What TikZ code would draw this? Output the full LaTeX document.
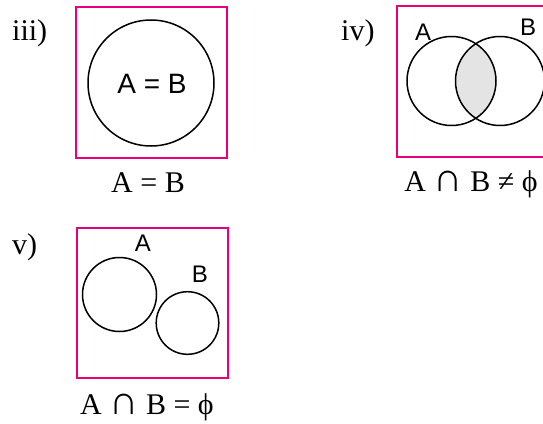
\documentclass[tikz,border=0pt]{standalone}
\usepackage{fontspec}
\setmainfont{Liberation Serif}
\newfontfamily\labelsans{Liberation Sans}
\usetikzlibrary{positioning}
\definecolor{frame}{HTML}{E6007E}
\definecolor{lensgray}{HTML}{E4E4E4}
\newcommand{\bigcapsym}{\scalebox{1.35}{∩}}

\begin{document}
\begin{tikzpicture}[x=1pt,y=-1pt,
  universe/.style={draw=frame,line width=2pt},
  setline/.style={draw=black,line width=1.5pt},
  setname/.style={font=\labelsans\fontsize{24}{26}\selectfont,inner sep=0pt},
  caption/.style={font=\fontsize{30}{32}\selectfont,inner sep=0pt},
  partno/.style={font=\fontsize{30}{32}\selectfont,inner sep=0pt,anchor=west}]
\useasboundingbox (0,0) rectangle (543,423);
% iii) equal sets
\node[partno] (n3) at (12,33) {iii)};
\draw[universe] (76,7) rectangle (227,158);
\draw[setline] (151,83) circle (63);
\node[setname,font=\labelsans\fontsize{28}{30}\selectfont] (ab3) at (152,84) {A = B};
\node[caption] (c3) at (148,183) {A = B};
% iv) overlapping sets
\node[partno] (n4) at (341,33) {iv)};
\begin{scope}
\clip (500,81) circle (44.5);
\fill[lensgray] (451.5,81) circle (44.5);
\end{scope}
\draw[universe] (397,6) rectangle (560,157);
\draw[setline] (451.5,81) circle (44.5);
\draw[setline] (500,81) circle (44.5);
\node[setname] (a4) at (423,32) {A};
\node[setname] (b4) at (528,27) {B};
\node[caption] (c4) at (471,184) {A \bigcapsym{} B ≠ ϕ};
% v) disjoint sets
\node[partno] (n5) at (12,247) {v)};
\draw[universe] (77,228) rectangle (228,378);
\draw[setline] (119.5,294.5) circle (37);
\draw[setline] (187.5,323) circle (31.3);
\node[setname] (a5) at (143,243) {A};
\node[setname] (b5) at (200,274) {B};
\node[caption] (c5) at (147,407) {A \bigcapsym{} B = ϕ};
\end{tikzpicture}
\end{document}
